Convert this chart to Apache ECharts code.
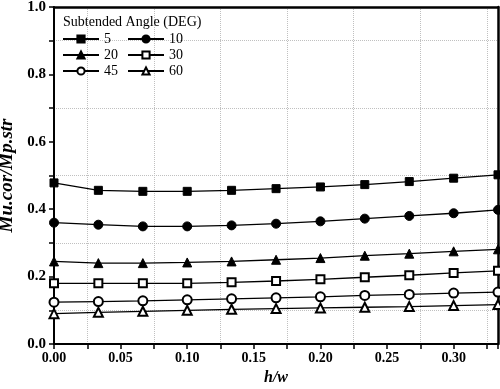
<!DOCTYPE html>
<html><head><meta charset="utf-8">
<script src="https://cdn.jsdelivr.net/npm/echarts@6/dist/echarts.min.js"></script>
<style>html,body{margin:0;padding:0;background:#fff}#c{width:500px;height:389px}</style>
</head><body><div id="c"></div>
<script>
const hw = [0, 0.0333, 0.0667, 0.1, 0.1333, 0.1667, 0.2, 0.2333, 0.2667, 0.3, 0.3333];
const angles = ['5', '10', '20', '30', '45', '60'];
const s5  = [0.478, 0.456, 0.453, 0.453, 0.456, 0.461, 0.466, 0.473, 0.482, 0.492, 0.502];
const s10 = [0.360, 0.354, 0.349, 0.349, 0.352, 0.357, 0.364, 0.372, 0.380, 0.388, 0.398];
const s20 = [0.245, 0.240, 0.240, 0.242, 0.245, 0.250, 0.255, 0.262, 0.268, 0.275, 0.281];
const s30 = [0.180, 0.180, 0.180, 0.180, 0.183, 0.187, 0.192, 0.198, 0.204, 0.211, 0.217];
const s45 = [0.124, 0.126, 0.128, 0.131, 0.134, 0.137, 0.140, 0.144, 0.147, 0.151, 0.154];
const s60 = [0.090, 0.094, 0.097, 0.100, 0.103, 0.105, 0.107, 0.109, 0.111, 0.114, 0.117];
const xTitle = 'h/w';
const yTitle = 'Mu.cor/Mp.str';
const legendTitle = 'Subtended Angle (DEG)';

const values = [s5, s10, s20, s30, s45, s60];
const symbols = ['rect', 'circle', 'triangle', 'emptyRect', 'emptyCircle', 'emptyTriangle'];
const sizes = [8, 9, 9, 8, 9, 9];
const FONT = '"Liberation Serif", "Times New Roman", serif';

const chart = echarts.init(document.getElementById('c'));
const series = values.map((v, i) => ({
  name: angles[i], type: 'line', xAxisIndex: 0, yAxisIndex: 0,
  data: v.map((y, j) => [hw[j], y]),
  symbol: symbols[i], symbolSize: sizes[i], showAllSymbol: true,
  lineStyle: {color: '#000', width: 1.3},
  itemStyle: {color: '#000', borderColor: '#000', borderWidth: symbols[i].startsWith('empty') ? 0.7 : 1},
  clip: false, z: 3
}));
const legendText = {fontFamily: FONT, fontSize: 14, color: '#000'};
chart.setOption({
  animation: false,
  backgroundColor: '#fff',
  title: {text: legendTitle, left: 58, top: 10, textStyle: {fontFamily: FONT, fontSize: 14, fontWeight: 'normal', color: '#000'}},
  legend: [
    {data: ['5', '20', '45'], orient: 'vertical', left: 57, top: 27, itemWidth: 36, itemHeight: 9, itemGap: 2, itemTextGap: 3, textStyle: legendText},
    {data: ['10', '30', '60'], orient: 'vertical', left: 122, top: 27, itemWidth: 36, itemHeight: 9, itemGap: 2, itemTextGap: 3, textStyle: legendText}
  ],
  grid: {left: 54, right: 2, top: 7, bottom: 45, outerBoundsMode: 'none', containLabel: false},
  xAxis: [{
    type: 'value', min: 0, max: 0.3333, interval: 0.025, position: 'bottom',
    name: xTitle, nameLocation: 'middle', nameGap: 25,
    nameTextStyle: {fontFamily: FONT, fontSize: 16, fontWeight: 'bold', fontStyle: 'italic', color: '#000'},
    axisLine: {onZero: false, lineStyle: {color: '#000', width: 2}},
    axisTick: {show: true, inside: false, length: 5, lineStyle: {color: '#000', width: 1.5}},
    axisLabel: {fontFamily: FONT, fontSize: 14, fontWeight: 'bold', color: '#000', margin: 7,
      formatter: v => (Math.round(v * 1000) % 50 === 0 ? v.toFixed(2) : '')},
    splitLine: {show: true, lineStyle: {color: ['rgba(0,0,0,0)', '#c0c0c0'], type: 'dotted', width: 1}}
  }, {
    type: 'value', min: 0, max: 0.3333, position: 'top',
    axisLine: {onZero: false, lineStyle: {color: '#000', width: 2.5}},
    axisTick: {show: false}, axisLabel: {show: false}, splitLine: {show: false}
  }],
  yAxis: [{
    type: 'value', min: 0, max: 1, interval: 0.1, position: 'left',
    name: yTitle, nameLocation: 'middle', nameGap: 36, nameRotate: 90,
    nameTextStyle: {fontFamily: FONT, fontSize: 19, fontWeight: 'bold', fontStyle: 'italic', color: '#000'},
    axisLine: {onZero: false, lineStyle: {color: '#000', width: 2}},
    axisTick: {show: true, inside: false, length: 5, lineStyle: {color: '#000', width: 1.5}},
    axisLabel: {fontFamily: FONT, fontSize: 15, fontWeight: 'bold', color: '#000', margin: 8,
      formatter: v => (Math.round(v * 10) % 2 === 0 ? v.toFixed(1) : '')},
    splitLine: {show: true, lineStyle: {color: ['rgba(0,0,0,0)', '#c0c0c0'], type: 'dotted', width: 1}}
  }, {
    type: 'value', min: 0, max: 1, position: 'right',
    axisLine: {onZero: false, lineStyle: {color: '#000', width: 2.5}},
    axisTick: {show: false}, axisLabel: {show: false}, splitLine: {show: false}
  }],
  series: series
});
</script></body></html>
